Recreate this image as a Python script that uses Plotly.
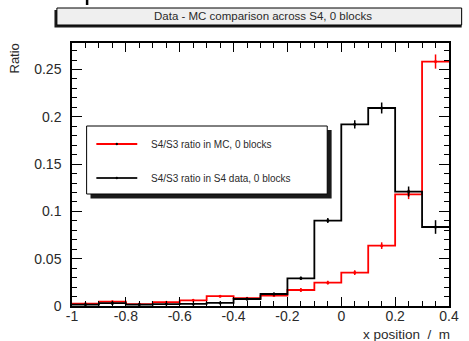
import plotly.graph_objects as go

# ---- data ----
bin_edges = [-1.0, -0.9, -0.8, -0.7, -0.6, -0.5, -0.4, -0.3, -0.2, -0.1, 0.0, 0.1, 0.2, 0.3, 0.4]
data_ratio = [0.0015, 0.003, 0.0015, 0.002, 0.0022, 0.0033, 0.0074, 0.0127, 0.0293, 0.0903,
              0.192, 0.2093, 0.121, 0.0835]
data_err = [0.0008, 0.002, 0.0008, 0.001, 0.001, 0.0012, 0.0015, 0.0015, 0.0018, 0.0026,
            0.0044, 0.0058, 0.0053, 0.0072]
mc_ratio = [0.0025, 0.0046, 0.002, 0.004, 0.006, 0.0104, 0.0082, 0.011, 0.0169, 0.0247,
            0.0353, 0.0638, 0.118, 0.2584]
mc_err = [0.0008, 0.001, 0.0008, 0.001, 0.001, 0.0012, 0.001, 0.0012, 0.0022, 0.002,
          0.0026, 0.0035, 0.005, 0.0075]
x_ticks = [-1.0, -0.8, -0.6, -0.4, -0.2, 0.0, 0.2, 0.4]
x_tick_text = ["-1", "-0.8", "-0.6", "-0.4", "-0.2", "0", "0.2", "0.4"]
y_ticks = [0, 0.05, 0.1, 0.15, 0.2, 0.25]
y_tick_text = ["0", "0.05", "0.1", "0.15", "0.2", "0.25"]
title_text = "Data - MC comparison across S4, 0 blocks"
legend_labels = ["S4/S3 ratio in MC, 0 blocks", "S4/S3 ratio in S4 data, 0 blocks"]

W, H = 469, 341
L, R, T, B = 72, 459, 43, 306


def px(x):
    return (x - L) / (R - L)


def py(y):
    return (B - y) / (B - T)


centers = [(a + b) / 2 for a, b in zip(bin_edges[:-1], bin_edges[1:])]
FONT = "Liberation Sans"
TXT = "#2a2a2a"

fig = go.Figure()
for vals, errs, col in [(mc_ratio, mc_err, "#ff0000"), (data_ratio, data_err, "#000000")]:
    fig.add_trace(go.Scatter(x=bin_edges, y=vals + [vals[-1]], mode="lines",
                             line=dict(color=col, width=1.8, shape="hv"),
                             showlegend=False, hoverinfo="skip"))
    fig.add_trace(go.Scatter(x=centers, y=vals, mode="markers",
                             marker=dict(color=col, size=3),
                             error_y=dict(type="data", array=errs, color=col, thickness=1.5, width=0),
                             showlegend=False))

shapes = []
# title box with shadow
shapes.append(dict(type="rect", xref="paper", yref="paper", x0=px(54), x1=px(472), y0=py(27.5), y1=py(10),
                   fillcolor="#1a1a1a", line=dict(width=0), layer="above"))
shapes.append(dict(type="rect", xref="paper", yref="paper", x0=px(56.5), x1=px(472), y0=py(25), y1=py(8),
                   fillcolor="#efefef", line=dict(color="#000", width=1), layer="above"))
# cut-off mark at top
shapes.append(dict(type="line", xref="paper", yref="paper", x0=px(87.5), x1=px(87.5), y0=py(0), y1=py(5),
                   line=dict(color="#000", width=2.5), layer="above"))
# legend box with shadow
shapes.append(dict(type="rect", xref="paper", yref="paper", x0=px(91), x1=px(338.5), y0=py(198.5), y1=py(130),
                   fillcolor="#1a1a1a", line=dict(width=0), layer="above"))
shapes.append(dict(type="rect", xref="paper", yref="paper", x0=px(87), x1=px(334), y0=py(194), y1=py(126),
                   fillcolor="#ffffff", line=dict(color="#000", width=1), layer="above"))
for ly, col in [(144, "#ff0000"), (178, "#222222")]:
    shapes.append(dict(type="line", xref="paper", yref="paper", x0=px(97), x1=px(139), y0=py(ly), y1=py(ly),
                       line=dict(color=col, width=1.8), layer="above"))
    shapes.append(dict(type="circle", xref="paper", yref="paper", x0=px(116.8), x1=px(119.2),
                       y0=py(ly + 1.2), y1=py(ly - 1.2), fillcolor="#000", line=dict(width=0), layer="above"))

annotations = [
    dict(text=title_text, x=px(268), y=py(16.5), xref="paper", yref="paper", showarrow=False,
         font=dict(family=FONT, size=11.5, color=TXT), xanchor="center", yanchor="middle"),
    dict(text=legend_labels[0], x=px(151), y=py(144), xref="paper", yref="paper", showarrow=False,
         font=dict(family=FONT, size=10, color=TXT), xanchor="left", yanchor="middle"),
    dict(text=legend_labels[1], x=px(151), y=py(178), xref="paper", yref="paper", showarrow=False,
         font=dict(family=FONT, size=10, color=TXT), xanchor="left", yanchor="middle"),
    dict(text="Ratio", x=px(14), y=py(41), xref="paper", yref="paper", showarrow=False, textangle=-90,
         font=dict(family=FONT, size=13, color=TXT), xanchor="center", yanchor="top"),
    dict(text="x position  /  m", x=px(462), y=py(334), xref="paper", yref="paper", showarrow=False,
         font=dict(family=FONT, size=13.5, color=TXT), xanchor="right", yanchor="middle"),
]

fig.update_layout(
    width=W, height=H,
    margin=dict(l=L, r=W - R, t=T, b=H - B, pad=0),
    paper_bgcolor="white", plot_bgcolor="white",
    shapes=shapes, annotations=annotations,
    font=dict(family=FONT, color=TXT),
    xaxis=dict(range=[-1, 0.4], tickvals=x_ticks, ticktext=x_tick_text, ticks="inside", ticklen=9,
               tickwidth=1, tickcolor="#000", showline=True, linecolor="#000", linewidth=1.5, mirror="ticks",
               showgrid=False, zeroline=False, tickfont=dict(size=14, color=TXT), ticklabelstandoff=-4,
               minor=dict(ticks="inside", dtick=0.05, tick0=0, ticklen=5, tickcolor="#000", showgrid=False)),
    yaxis=dict(range=[0, 0.278], tickvals=y_ticks, ticktext=y_tick_text, ticks="inside", ticklen=10,
               tickwidth=1, tickcolor="#000", showline=True, linecolor="#000", linewidth=1.5, mirror="ticks",
               showgrid=False, zeroline=False, tickfont=dict(size=14, color=TXT), ticklabelstandoff=6,
               minor=dict(ticks="inside", dtick=0.01, tick0=0, ticklen=5, tickcolor="#000", showgrid=False)),
)

fig.write_html("out.html")
